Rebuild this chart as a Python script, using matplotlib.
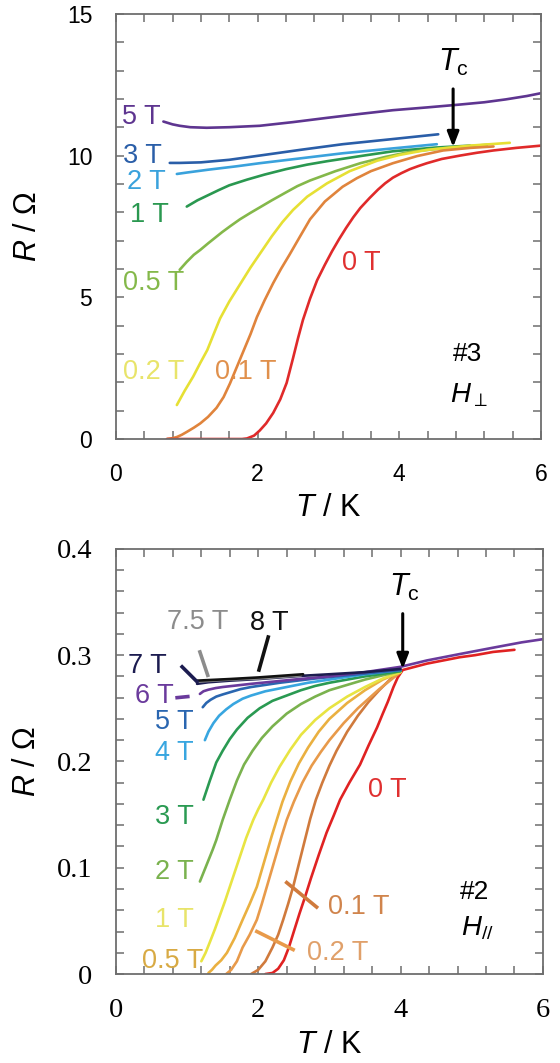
import matplotlib
matplotlib.use("Agg")
import matplotlib.pyplot as plt
from matplotlib.ticker import MultipleLocator

plt.rcParams['font.family'] = ['Liberation Sans', 'DejaVu Sans']
plt.rcParams['mathtext.fontset'] = 'custom'
plt.rcParams['mathtext.rm'] = 'Liberation Sans'
plt.rcParams['mathtext.it'] = 'Liberation Sans:italic'
plt.rcParams['mathtext.bf'] = 'Liberation Sans:bold'

# ---- sample #3, field perpendicular (R in ohm) ----
top_fields = ['5 T', '3 T', '2 T', '1 T', '0.5 T', '0.2 T', '0.1 T', '0 T']
top_colors = ['#5e3590', '#2a5ea8', '#3aa2dc', '#2a9850', '#84b84a',
              '#e6e034', '#e0843c', '#e02a2a']
top_T = {
    '5 T': [0.67, 0.8, 0.9, 1.05, 1.28, 1.6, 2.03, 2.5, 2.98, 3.45, 3.91, 4.4, 4.86,
            5.2, 5.5, 5.8, 6.0],
    '3 T': [0.76, 0.9, 1.2, 1.6, 2.03, 2.6, 3.2, 3.9, 4.55],
    '2 T': [0.86, 1.0, 1.3, 1.7, 2.03, 2.6, 3.2, 3.9, 4.53],
    '1 T': [1.0, 1.15, 1.3, 1.45, 1.6, 1.85, 2.1, 2.4, 2.7, 2.98, 3.5, 3.91, 4.5, 5.0],
    '0.5 T': [0.9, 1.0, 1.1, 1.19, 1.3, 1.4, 1.5, 1.62, 1.75, 1.9, 2.03, 2.2, 2.4,
              2.56, 2.74, 3.1, 3.45, 3.8, 4.15, 4.7, 5.24],
    '0.2 T': [0.86, 0.97, 1.09, 1.19, 1.29, 1.38, 1.47, 1.6, 1.75, 1.9, 2.05, 2.2,
              2.35, 2.5, 2.7, 2.98, 3.3, 3.69, 4.0, 4.39, 5.0, 5.56],
    '0.1 T': [0.72, 0.8, 0.86, 0.93, 1.0, 1.1, 1.19, 1.3, 1.42, 1.52, 1.61, 1.7, 1.8,
              1.9, 1.99, 2.1, 2.22, 2.33, 2.45, 2.6, 2.74, 2.95, 3.2, 3.4, 3.6, 3.91,
              4.25, 4.62, 5.0, 5.33],
    '0 T': [0.72, 1.0, 1.5, 1.78, 1.85, 1.95, 2.03, 2.12, 2.22, 2.32, 2.41, 2.5, 2.57,
            2.64, 2.74, 2.84, 2.95, 3.05, 3.15, 3.25, 3.35, 3.45, 3.58, 3.7, 3.8, 3.91,
            4.03, 4.15, 4.27, 4.39, 4.6, 4.86, 5.1, 5.33, 5.65, 6.0],
}
top_R = {
    '5 T': [11.2, 11.1, 11.05, 11.0, 10.98, 11.0, 11.05, 11.18, 11.33, 11.47, 11.6,
            11.7, 11.8, 11.88, 11.98, 12.1, 12.2],
    '3 T': [9.74, 9.74, 9.76, 9.85, 10.0, 10.2, 10.4, 10.58, 10.75],
    '2 T': [9.35, 9.4, 9.5, 9.62, 9.73, 9.9, 10.08, 10.25, 10.4],
    '1 T': [8.2, 8.42, 8.6, 8.78, 8.95, 9.15, 9.33, 9.52, 9.68, 9.8, 10.0, 10.15,
            10.28, 10.35],
    '0.5 T': [5.97, 6.25, 6.5, 6.67, 6.9, 7.1, 7.3, 7.52, 7.75, 7.98, 8.17, 8.42, 8.7,
              8.92, 9.12, 9.45, 9.73, 9.95, 10.13, 10.28, 10.38],
    '0.2 T': [1.2, 1.7, 2.2, 2.68, 3.14, 3.7, 4.25, 4.85, 5.45, 6.05, 6.6, 7.15, 7.65,
              8.08, 8.55, 9.02, 9.45, 9.82, 10.02, 10.2, 10.35, 10.45],
    '0.1 T': [0.0, 0.03, 0.07, 0.15, 0.25, 0.4, 0.55, 0.78, 1.1, 1.48, 1.96, 2.5, 3.1,
              3.7, 4.3, 4.9, 5.5, 6.0, 6.5, 7.15, 7.75, 8.38, 8.9, 9.2, 9.45, 9.73,
              9.98, 10.18, 10.27, 10.32],
    '0 T': [0.0, 0.0, 0.0, 0.0, 0.02, 0.12, 0.3, 0.55, 0.92, 1.4, 1.98, 2.85, 3.55,
            4.2, 4.95, 5.6, 6.15, 6.62, 7.05, 7.45, 7.82, 8.15, 8.5, 8.8, 9.02, 9.22,
            9.38, 9.52, 9.63, 9.73, 9.88, 10.0, 10.1, 10.18, 10.27, 10.35],
}
# label anchors (left edge T, centre R)
top_label_T = [0.09, 0.1, 0.16, 0.2, 0.1, 0.1, 1.4, 3.19]
top_label_R = [11.37, 10.0, 9.07, 7.9, 5.5, 2.37, 2.37, 6.2]
top_label_colors = ['#5e3590', '#2a5ea8', '#3aa2dc', '#2a9850', '#84b84a',
                    '#e8e46a', '#e0904c', '#e03030']

# ---- sample #2, field parallel (R in ohm) ----
bot_fields = ['8 T', '7.5 T', '7 T', '6 T', '5 T', '4 T', '3 T', '2 T', '1 T',
              '0.5 T', '0.2 T', '0.1 T', '0 T']
bot_colors = ['#111111', '#8c8c8c', '#1c1c50', '#6a3a9c', '#2a66b0', '#38a6e0',
              '#2a9a52', '#7ab24e', '#e8e442', '#eab040', '#e89a4a', '#d07a3c',
              '#e02222']
bot_T = {
    '8 T': [1.14, 1.6, 2.0, 2.63],
    '7.5 T': [1.14, 1.6, 2.0, 2.6],
    '7 T': [1.14, 1.3, 1.6, 2.0, 2.6, 3.0, 3.5, 4.0],
    '6 T': [1.18, 1.23, 1.3, 1.4, 1.5, 1.7, 1.9, 2.5, 3.0, 3.5, 4.0, 4.37, 4.83, 5.3,
            5.7, 6.0],
    '5 T': [1.22, 1.27, 1.33, 1.41, 1.5, 1.6, 1.75, 1.9, 2.3, 2.8, 3.4, 4.0],
    '4 T': [1.25, 1.3, 1.37, 1.45, 1.55, 1.65, 1.78, 1.9, 2.1, 2.4, 2.7, 3.0, 3.5, 4.0],
    '3 T': [1.23, 1.27, 1.32, 1.41, 1.5, 1.6, 1.7, 1.85, 2.02, 2.2, 2.4, 2.6, 2.8,
            3.0, 3.5, 4.0],
    '2 T': [1.18, 1.24, 1.3, 1.36, 1.41, 1.5, 1.6, 1.7, 1.8, 1.92, 2.05, 2.2, 2.4,
            2.6, 2.8, 3.0, 3.25, 3.5, 3.75, 4.0],
    '1 T': [1.2, 1.26, 1.32, 1.39, 1.46, 1.53, 1.6, 1.67, 1.74, 1.83, 1.93, 2.0, 2.07,
            2.18, 2.3, 2.45, 2.6, 2.8, 3.0, 3.25, 3.5, 3.75, 4.0],
    '0.5 T': [1.3, 1.35, 1.4, 1.48, 1.56, 1.67, 1.78, 1.88, 1.98, 2.05, 2.12, 2.19,
              2.26, 2.34, 2.45, 2.57, 2.7, 2.85, 3.0, 3.25, 3.5, 3.75, 4.0],
    '0.2 T': [1.55, 1.62, 1.7, 1.78, 1.88, 1.98, 2.05, 2.12, 2.19, 2.26, 2.33, 2.4,
              2.5, 2.62, 2.75, 2.88, 3.0, 3.2, 3.4, 3.7, 4.0],
    '0.1 T': [1.9, 2.0, 2.1, 2.2, 2.28, 2.35, 2.42, 2.49, 2.55, 2.61, 2.67, 2.73, 2.81,
              2.9, 3.0, 3.1, 3.25, 3.4, 3.55, 3.7, 3.85, 4.0],
    '0 T': [2.1, 2.2, 2.28, 2.36, 2.43, 2.5, 2.58, 2.66, 2.74, 2.85, 2.96, 3.06, 3.15,
            3.28, 3.43, 3.55, 3.67, 3.75, 3.82, 3.9, 3.96, 4.03, 4.2, 4.37, 4.6, 4.83,
            5.05, 5.3, 5.6],
}
bot_R = {
    '8 T': [0.276, 0.2775, 0.279, 0.282],
    '7.5 T': [0.275, 0.277, 0.278, 0.281],
    '7 T': [0.273, 0.2745, 0.276, 0.2775, 0.2805, 0.282, 0.284, 0.287],
    '6 T': [0.2635, 0.266, 0.2675, 0.269, 0.27, 0.2715, 0.273, 0.277, 0.28, 0.284,
            0.289, 0.295, 0.301, 0.307, 0.312, 0.315],
    '5 T': [0.251, 0.255, 0.258, 0.261, 0.263, 0.265, 0.268, 0.27, 0.274, 0.278,
            0.282, 0.286],
    '4 T': [0.22, 0.228, 0.236, 0.243, 0.249, 0.254, 0.259, 0.262, 0.266, 0.27,
            0.274, 0.277, 0.282, 0.286],
    '3 T': [0.164, 0.172, 0.182, 0.199, 0.21, 0.221, 0.23, 0.241, 0.25, 0.257, 0.262,
            0.267, 0.271, 0.274, 0.28, 0.285],
    '2 T': [0.087, 0.097, 0.107, 0.117, 0.126, 0.145, 0.164, 0.182, 0.197, 0.21,
            0.222, 0.233, 0.245, 0.254, 0.261, 0.267, 0.272, 0.277, 0.281, 0.285],
    '1 T': [0.012, 0.02, 0.03, 0.042, 0.055, 0.068, 0.082, 0.096, 0.11, 0.128, 0.145,
            0.155, 0.164, 0.18, 0.195, 0.211, 0.225, 0.239, 0.25, 0.261, 0.27, 0.278,
            0.284],
    '0.5 T': [0.001, 0.004, 0.008, 0.013, 0.02, 0.034, 0.051, 0.066, 0.082, 0.098,
              0.114, 0.13, 0.145, 0.162, 0.181, 0.198, 0.213, 0.228, 0.24, 0.255,
              0.267, 0.277, 0.284],
    '0.2 T': [0.0, 0.004, 0.012, 0.025, 0.037, 0.051, 0.066, 0.082, 0.098, 0.114,
              0.13, 0.145, 0.162, 0.18, 0.196, 0.209, 0.22, 0.236, 0.25, 0.268, 0.284],
    '0.1 T': [0.0, 0.004, 0.012, 0.025, 0.037, 0.051, 0.066, 0.082, 0.098, 0.114,
              0.13, 0.146, 0.164, 0.18, 0.196, 0.21, 0.228, 0.243, 0.256, 0.267,
              0.277, 0.285],
    '0 T': [0.0, 0.001, 0.005, 0.013, 0.025, 0.04, 0.057, 0.073, 0.09, 0.112, 0.133,
            0.149, 0.164, 0.18, 0.197, 0.215, 0.232, 0.245, 0.256, 0.27, 0.279, 0.286,
            0.289, 0.292, 0.295, 0.298, 0.3, 0.303, 0.305],
}
bot_label_T = [1.88, 0.72, 0.17, 0.27, 0.55, 0.55, 0.55, 0.55, 0.55, 0.37, 2.68,
               2.98, 3.54]
bot_label_R = [0.330, 0.331, 0.290, 0.262, 0.237, 0.208, 0.148, 0.096, 0.051,
               0.012, 0.020, 0.063, 0.173]
bot_label_colors = ['#111111', '#8c8c8c', '#1c1c50', '#6a3a9c', '#2a66b0', '#38a6e0',
                    '#2a9a52', '#7ab24e', '#e8e46a', '#d8aa44', '#e0a06a', '#d0844c',
                    '#e03030']
# leader lines: field, (T0, R0), (T1, R1)
bot_leaders = [
    ('8 T', (2.14, 0.317), (2.01, 0.286)),
    ('7.5 T', (1.18, 0.303), (1.29, 0.281)),
    ('7 T', (0.93, 0.289), (1.14, 0.275)),
    ('6 T', (0.86, 0.260), (1.01, 0.261)),
    ('0.2 T', (1.98, 0.040), (2.49, 0.023)),
    ('0.1 T', (2.4, 0.086), (2.82, 0.063)),
]

label_fs = 19.5
spine_col = '#6e6e6e'

fig = plt.figure(figsize=(5.6, 10.63), dpi=100)
ax1 = fig.add_axes([0.207, 0.587, 0.759, 0.400])
ax2 = fig.add_axes([0.207, 0.0837, 0.7625, 0.400])

for ax in (ax1, ax2):
    for s in ax.spines.values():
        s.set_color(spine_col)
        s.set_linewidth(1.3)
    ax.tick_params(which='both', direction='in', top=True, right=True,
                   color=spine_col, width=1.1, length=6, pad=17)
    ax.xaxis.set_minor_locator(MultipleLocator(0.4))
    ax.set_xlim(0, 6)
    ax.set_xlabel('$T$ / K', fontsize=22)
    ax.set_ylabel('$R$ / Ω', fontsize=22)
    ax.yaxis.set_label_coords(-0.172, 0.5)

# top panel
for f, c in zip(top_fields, top_colors):
    ax1.plot(top_T[f], top_R[f], color=c, lw=1.9, solid_capstyle='round')
for f, t, r, c in zip(top_fields, top_label_T, top_label_R, top_label_colors):
    ax1.text(t, r, f, color=c, fontsize=label_fs, ha='left', va='center')
ax1.set_ylim(0, 15)
ax1.set_xticks([0, 2, 4, 6])
ax1.set_yticks([0, 5, 10, 15])
ax1.yaxis.set_minor_locator(MultipleLocator(1))
ax1.tick_params(labelsize=16.5)
ax1.xaxis.set_label_coords(0.5, -0.128)
ax1.annotate('', xy=(4.76, 10.3), xytext=(4.76, 12.35),
             arrowprops=dict(arrowstyle='-|>,head_width=0.35,head_length=0.9',
                             color='black', lw=2.2, shrinkA=0, shrinkB=0))
ax1.text(4.76, 13.3, r'$T_{\mathrm{c}}$', fontsize=22, ha='center', va='center')
ax1.text(4.75, 3.0, '#3', fontsize=19, ha='left', va='center')
ax1.text(4.72, 1.55, r'$H_{\perp}$', fontsize=20, ha='left', va='center')

# bottom panel
for f, c in zip(bot_fields[::-1], bot_colors[::-1]):
    ax2.plot(bot_T[f], bot_R[f], color=c, lw=1.9, solid_capstyle='round')
for f, t, r, c in zip(bot_fields, bot_label_T, bot_label_R, bot_label_colors):
    ax2.text(t, r, f, color=c, fontsize=label_fs, ha='left', va='center')
lead_col = dict(zip(bot_fields, bot_label_colors))
lead_col['0.2 T'] = '#e89a4a'
lead_col['0.1 T'] = '#d07a3c'
for f, p0, p1 in bot_leaders:
    ax2.plot([p0[0], p1[0]], [p0[1], p1[1]], color=lead_col[f], lw=2.6)
ax2.set_ylim(0, 0.4)
ax2.set_xticks([0, 2, 4, 6], labels=['0', '2', '4', '6'],
               fontfamily='Liberation Serif', fontsize=20.5)
ax2.set_yticks([0, 0.1, 0.2, 0.3, 0.4], labels=['0', '0.1', '0.2', '0.3', '0.4'],
               fontfamily='Liberation Serif', fontsize=20.5)
ax2.yaxis.set_minor_locator(MultipleLocator(0.02))
ax2.xaxis.set_label_coords(0.5, -0.132)
ax2.annotate('', xy=(4.03, 0.287), xytext=(4.03, 0.339),
             arrowprops=dict(arrowstyle='-|>,head_width=0.35,head_length=0.9',
                             color='black', lw=2.2, shrinkA=0, shrinkB=0))
ax2.text(4.06, 0.364, r'$T_{\mathrm{c}}$', fontsize=22, ha='center', va='center')
ax2.text(4.83, 0.077, '#2', fontsize=19, ha='left', va='center')
ax2.text(4.85, 0.043, r'$H_{//}$', fontsize=20, ha='left', va='center')

fig.savefig('out.png', dpi=100, facecolor='white')
